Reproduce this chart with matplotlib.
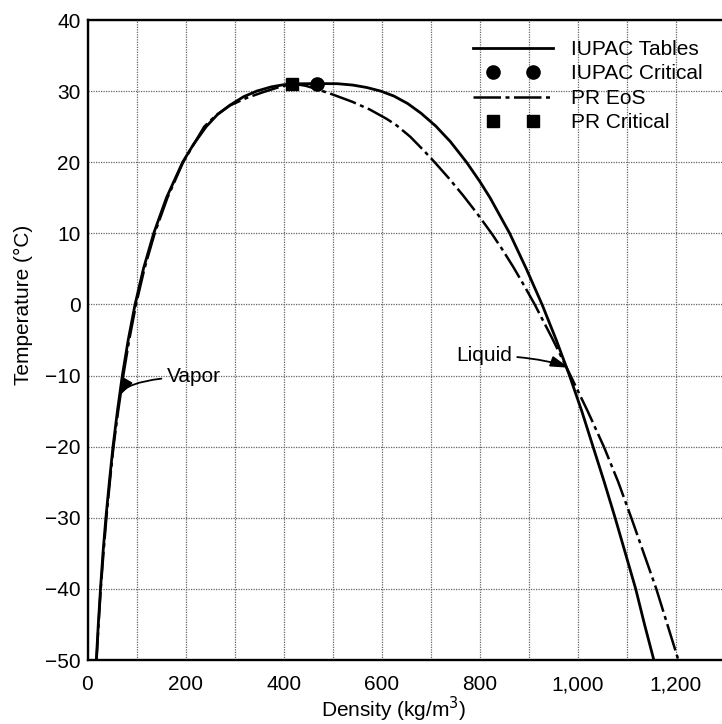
import matplotlib
matplotlib.use("Agg")
import matplotlib.pyplot as plt
from matplotlib.ticker import MultipleLocator, FuncFormatter
from matplotlib.legend_handler import HandlerLine2D

plt.rcParams['font.family'] = ['Liberation Sans', 'DejaVu Sans']

# saturation envelope, IUPAC tables (vapor side up to critical, then liquid side down)
iupac_rho = [18, 22, 26.5, 31.5, 37.5, 44.5, 52, 61, 71, 83, 97, 114, 135, 161,
             194, 216, 242, 265, 290, 318, 345, 375, 400, 430, 467.6,
             510, 541, 570, 598, 625, 653, 680, 710, 740, 773, 800, 821, 861,
             895, 927, 956, 983, 1008, 1031, 1054, 1076, 1097, 1118, 1136, 1155]
iupac_T = [-50, -45, -40, -35, -30, -25, -20, -15, -10, -5, 0, 5, 10, 15,
           20, 22.5, 25, 26.7, 28, 29.2, 30, 30.6, 30.9, 31.03, 31.06,
           31.04, 30.85, 30.5, 30, 29.3, 28.25, 26.9, 25.1, 22.9, 20, 17.3, 15, 10,
           5, 0, -5, -10, -15, -20, -25, -30, -35, -40, -45, -50]

# Peng-Robinson EoS envelope
pr_rho = [18.5, 22.5, 27, 32.5, 38.5, 45.5, 53, 62.5, 73, 85, 99, 116, 137, 163,
          195, 238, 262, 291, 325, 358, 390, 418,
          445, 467, 501, 540, 576, 610, 630, 658, 685, 708, 737, 766, 795,
          824, 846, 868, 890, 912, 948, 985, 1020, 1053, 1082, 1109, 1135,
          1160, 1183, 1205]
pr_T = [-50, -45, -40, -35, -30, -25, -20, -15, -10, -5, 0, 5, 10, 15,
        20, 25, 26.6, 28, 29.05, 29.85, 30.55, 31.06,
        30.75, 30.3, 29.5, 28.5, 27.4, 26.1, 25.2, 23.6, 21.7, 20, 17.74,
        15.33, 12.75, 10, 7.73, 5.31, 2.71, 0, -4.8, -10, -15, -20, -24.9,
        -30, -35.1, -40, -45.1, -50]

iupac_crit = (467.6, 31.06)
pr_crit = (418, 31.06)

fig = plt.figure(figsize=(7.22, 7.24), dpi=100)
ax = fig.add_axes([87.5 / 722, 1 - 660 / 724, 1 - 87.5 / 722, 640 / 724])

ax.plot(iupac_rho, iupac_T, color='black', lw=2.0, solid_joinstyle='round',
        label='IUPAC Tables', zorder=3)
crit1, = ax.plot([iupac_crit[0]], [iupac_crit[1]], 'o', color='black', ms=9.5,
                 label='IUPAC Critical', zorder=4)
ax.plot(pr_rho, pr_T, color='black', lw=1.8, dashes=(11, 1.8, 1.6, 1.8),
        label='PR EoS', zorder=3)
crit2, = ax.plot([pr_crit[0]], [pr_crit[1]], 's', color='black', ms=9,
                 label='PR Critical', zorder=4)

ax.set_xlim(0, 1294)
ax.set_ylim(-50, 40)
ax.xaxis.set_major_locator(MultipleLocator(200))
ax.xaxis.set_minor_locator(MultipleLocator(100))
ax.yaxis.set_major_locator(MultipleLocator(10))
ax.xaxis.set_major_formatter(FuncFormatter(lambda v, p: f'{int(v):,}'))
ax.grid(which='both', color='#666666', ls=(0, (1, 1)), lw=0.9)
ax.tick_params(which='both', length=0, labelsize=15)
ax.tick_params(axis='x', pad=11)
ax.tick_params(axis='y', pad=5)

for s in ('left', 'bottom', 'top'):
    ax.spines[s].set_linewidth(1.7)
ax.spines['right'].set_visible(False)

ax.set_xlabel('Density (kg/m$^3$)', fontsize=15)
ax.set_ylabel('Temperature (°C)', fontsize=15)
ax.xaxis.set_label_coords(0.483, -0.055)
ax.yaxis.set_label_coords(-0.086, 0.555)

arrow = dict(arrowstyle='-|>,head_length=0.55,head_width=0.16', color='black',
             lw=1.3, mutation_scale=20, shrinkA=2, shrinkB=0)
ax.annotate('Vapor', xy=(63, -13), xytext=(162, -10.2), va='center', ha='left',
            fontsize=15,
            arrowprops=dict(arrow, connectionstyle='angle3,angleA=0,angleB=60'))
ax.annotate('Liquid', xy=(982, -8.9), xytext=(865, -7.2), va='center', ha='right',
            fontsize=15,
            arrowprops=dict(arrow, connectionstyle='angle3,angleA=0,angleB=-20'))

pair = HandlerLine2D(numpoints=2, marker_pad=0.95)
fig.legend(loc='upper left', bbox_to_anchor=(473 / 722, 1 - 40 / 724),
           frameon=False, fontsize=15, handlelength=3.85, handletextpad=0.85,
           labelspacing=0.26, borderpad=0, borderaxespad=0,
           handler_map={crit1: pair, crit2: pair})

fig.savefig('out.png', dpi=100)
